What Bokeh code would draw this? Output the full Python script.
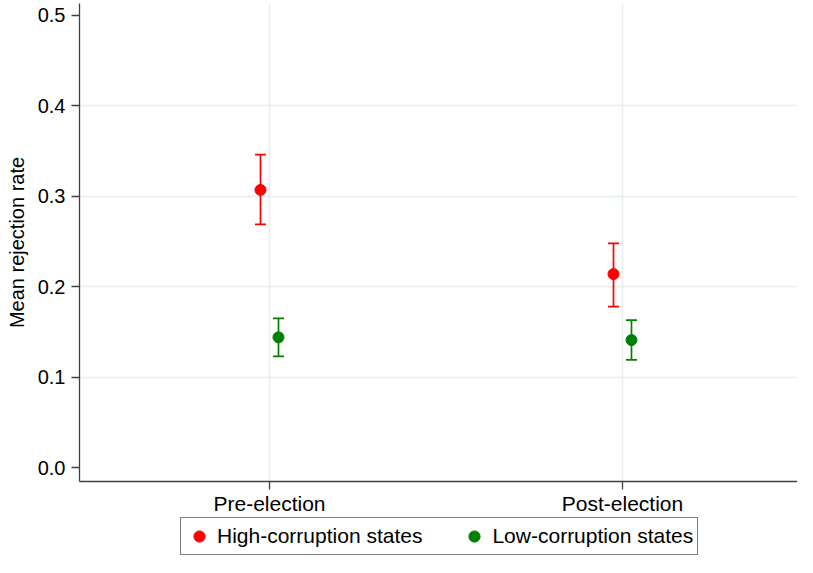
from bokeh.plotting import figure
from bokeh.layouts import column
from bokeh.models import (ColumnDataSource, Range1d, FixedTicker, Whisker, TeeHead,
                          Legend, LegendItem)
from bokeh.embed import file_html
from bokeh.resources import INLINE

# ---- data ----
categories = ["Pre-election", "Post-election"]
cat_pos = [1, 2]
high_mean = [0.307, 0.214]
high_lo = [0.269, 0.178]
high_hi = [0.346, 0.248]
low_mean = [0.144, 0.141]
low_lo = [0.123, 0.119]
low_hi = [0.165, 0.163]
y_ticks = [0.0, 0.1, 0.2, 0.3, 0.4, 0.5]
y_tick_labels = ["0.0", "0.1", "0.2", "0.3", "0.4", "0.5"]
series_names = ["High-corruption states", "Low-corruption states"]
series_colors = ["#FF0000", "#008000"]

# ---- style ----
FONT = "Liberation Sans"
DODGE = 0.0255
GRID = "#E6EEF0"
AXIS = "#404040"

p = figure(width=797, height=517, output_backend="svg", toolbar_location=None,
           x_range=Range1d(0.4618, 2.4958), y_range=Range1d(-0.0154, 0.5132),
           min_border_left=79, min_border_right=0, min_border_top=3,
           min_border_bottom=34)
p.outline_line_color = None
p.background_fill_color = "white"
p.border_fill_color = "white"

hs = ColumnDataSource(dict(x=[c - DODGE for c in cat_pos], y=high_mean,
                           lo=high_lo, hi=high_hi))
ls = ColumnDataSource(dict(x=[c + DODGE for c in cat_pos], y=low_mean,
                           lo=low_lo, hi=low_hi))

for src, col in ((hs, series_colors[0]), (ls, series_colors[1])):
    w = Whisker(source=src, base="x", lower="lo", upper="hi", dimension="height",
                line_color=col, line_width=1.7,
                upper_head=TeeHead(size=11, line_color=col, line_width=1.7),
                lower_head=TeeHead(size=11, line_color=col, line_width=1.7))
    p.add_layout(w)

p.scatter("x", "y", source=hs, size=11, color=series_colors[0])
p.scatter("x", "y", source=ls, size=11, color=series_colors[1])

# axes
p.xaxis.ticker = FixedTicker(ticks=cat_pos)
p.xaxis.major_label_overrides = {c: l for c, l in zip(cat_pos, categories)}
p.yaxis.ticker = FixedTicker(ticks=y_ticks)
p.yaxis.major_label_overrides = {t: l for t, l in zip(y_ticks, y_tick_labels)}
p.yaxis.axis_label = "Mean rejection rate"
for ax in (p.xaxis[0], p.yaxis[0]):
    ax.axis_line_color = AXIS
    ax.axis_line_width = 1.3
    ax.major_tick_line_color = AXIS
    ax.major_tick_line_width = 1.3
    ax.major_tick_out = 8
    ax.major_tick_in = 0
    ax.minor_tick_line_color = None
    ax.major_label_text_font = FONT
    ax.major_label_text_color = "black"
p.xaxis.major_label_standoff = 2
p.yaxis.major_label_standoff = 6
p.xaxis.major_label_text_font_size = "21px"
p.yaxis.major_label_text_font_size = "20px"
p.yaxis.axis_label_text_font = FONT
p.yaxis.axis_label_text_font_size = "20px"
p.yaxis.axis_label_text_font_style = "normal"
p.yaxis.axis_label_text_color = "black"
p.yaxis.axis_label_standoff = 7

# grids
p.xgrid.ticker = FixedTicker(ticks=cat_pos)
p.ygrid.ticker = FixedTicker(ticks=[0.1, 0.2, 0.3, 0.4])
p.xgrid.grid_line_color = GRID
p.ygrid.grid_line_color = GRID
p.xgrid.grid_line_width = 1.5
p.ygrid.grid_line_width = 1.5

# ---- legend strip below the chart ----
lf = figure(width=797, height=40, output_backend="svg", toolbar_location=None,
            x_axis_type=None, y_axis_type=None,
            x_range=Range1d(0, 1), y_range=Range1d(0, 1),
            min_border_left=79, min_border_right=0, min_border_top=0,
            min_border_bottom=0)
lf.outline_line_color = None
lf.grid.visible = False
items = []
for name, col in zip(series_names, series_colors):
    # legend proxies: NaN points are never drawn, only their legend glyphs
    r = lf.scatter(x=[float("nan")], y=[float("nan")], size=11, color=col)
    items.append(LegendItem(label=name, renderers=[r]))
legend = Legend(items=items, orientation="horizontal", location=(101, 2),
                border_line_color="black", border_line_width=1,
                label_text_font=FONT, label_text_font_size="21px",
                label_text_color="black",
                glyph_width=28, glyph_height=28, label_standoff=4,
                spacing=38, padding=4, margin=0)
lf.add_layout(legend, "center")

layout = column(p, lf, spacing=0)
open("out.html", "w").write(file_html(layout, INLINE))
